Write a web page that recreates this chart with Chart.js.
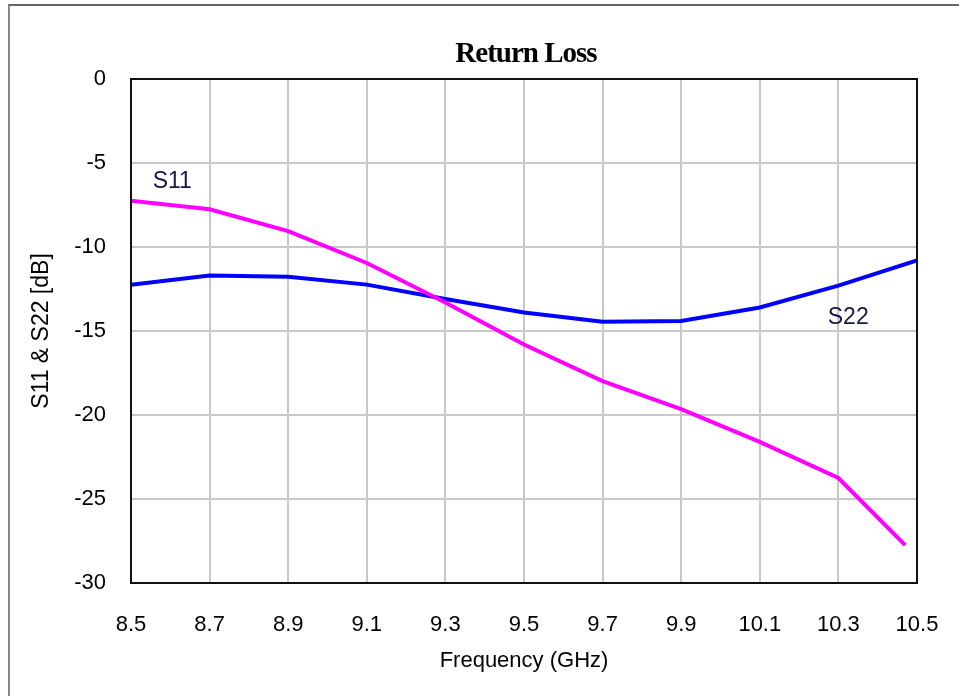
<!DOCTYPE html>
<html>
<head>
<meta charset="utf-8">
<script src="https://cdn.jsdelivr.net/npm/chart.js@4/dist/chart.umd.min.js"></script>
<style>
  html, body { margin: 0; padding: 0; background: #fff; overflow: hidden; }
  .wrap { position: relative; width: 959px; height: 696px; }
  .frame { position: absolute; left: 8px; top: 4px; width: 1000px; height: 1000px;
           border-top: 2px solid #666; border-left: 2px solid #888; }
  canvas { position: absolute; left: 0; top: 0; }
</style>
</head>
<body>
<div class="wrap">
  <div class="frame"></div>
  <canvas id="rl" width="959" height="696"></canvas>
</div>
<script>
/* Return Loss — S11 / S22 vs fréquence */

const FREQ = [8.5, 8.7, 8.9, 9.1, 9.3, 9.5, 9.7, 9.9, 10.1, 10.3, 10.47];
const S11 = [-7.25, -7.75, -9.05, -10.95, -13.3, -15.8, -17.98, -19.65, -21.6, -23.75, -27.75];

const FREQ22 = [8.5, 8.7, 8.9, 9.1, 9.3, 9.5, 9.7, 9.9, 10.1, 10.3, 10.5];
const S22 = [-12.25, -11.7, -11.77, -12.24, -13.1, -13.9, -14.45, -14.4, -13.6, -12.3, -10.8];

// annotations : [texte, x (GHz), y (dB)]
const NOTES = [
  ["S11", 8.605, -6.1],
  ["S22", 10.325, -14.2],
];

const TITLE = "Return Loss";
const SANS = "'Liberation Sans', Arial, sans-serif";
const gridColor = "#c8c8c8";

const pts = (xs, ys) => xs.map((x, i) => ({ x, y: ys[i] }));

// titre centré sur la zone de tracé, cadre noir, étiquettes S11/S22
const decor = {
  id: "decor",
  afterDatasetsDraw(chart) {
    const { ctx, chartArea: a, scales } = chart;
    ctx.save();
    ctx.strokeStyle = "#111";
    ctx.lineWidth = 2;
    ctx.strokeRect(a.left, a.top, a.right - a.left, a.bottom - a.top);

    ctx.fillStyle = "#16164a";
    ctx.font = `23px ${SANS}`;
    ctx.textAlign = "center";
    ctx.textBaseline = "middle";
    NOTES.forEach(([t, x, y]) => {
      ctx.fillText(t, scales.x.getPixelForValue(x), scales.y.getPixelForValue(y));
    });

    ctx.fillStyle = "#000";
    ctx.font = "bold 29px 'Liberation Serif', 'Times New Roman', serif";
    ctx.letterSpacing = "-1px";
    ctx.textBaseline = "alphabetic";
    ctx.fillText(TITLE, (a.left + a.right) / 2 + 2, 62);
    ctx.restore();
  },
};

new Chart(document.getElementById("rl"), {
  type: "line",
  data: {
    datasets: [
      { label: "S11", data: pts(FREQ, S11), borderColor: "#ff00ff", borderWidth: 4, pointRadius: 0, tension: 0 },
      { label: "S22", data: pts(FREQ22, S22), borderColor: "#0000ff", borderWidth: 4, pointRadius: 0, tension: 0 },
    ],
  },
  options: {
    responsive: false,
    animation: false,
    layout: { padding: { left: 0, right: 42, top: 79, bottom: 0 } },
    plugins: {
      legend: { display: false },
      tooltip: { enabled: false },
      title: { display: false },
    },
    scales: {
      x: {
        type: "linear",
        min: 8.5,
        max: 10.5,
        afterFit: (s) => { s.height = 113; s.paddingLeft = 0; s.paddingRight = 0; },
        grid: { color: gridColor, lineWidth: 2, drawTicks: false },
        border: { display: false },
        ticks: {
          stepSize: 0.2,
          autoSkip: false,
          maxRotation: 0,
          padding: 29,
          color: "#000",
          font: { family: SANS, size: 22 },
          callback: (v) => v.toFixed(1),
        },
        title: {
          display: true,
          text: "Frequency (GHz)",
          color: "#000",
          font: { family: SANS, size: 22 },
          padding: { top: 0, bottom: 22 },
        },
      },
      y: {
        min: -30,
        max: 0,
        afterFit: (s) => { s.width = 131; },
        grid: { color: gridColor, lineWidth: 2, drawTicks: false },
        border: { display: false },
        ticks: {
          stepSize: 5,
          padding: 25,
          color: "#000",
          font: { family: SANS, size: 22 },
        },
        title: {
          display: true,
          text: "S11 & S22 [dB]",
          color: "#000",
          font: { family: SANS, size: 23 },
          padding: { top: 28, bottom: 0 },
        },
      },
    },
  },
  plugins: [decor],
});
</script>
</body>
</html>
